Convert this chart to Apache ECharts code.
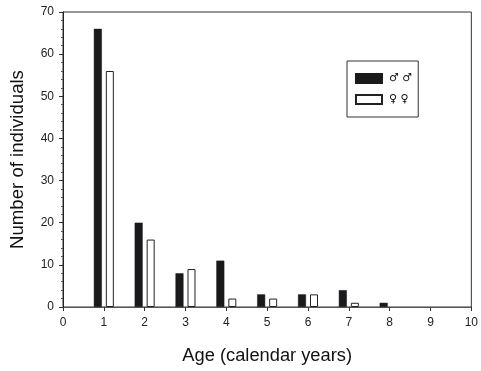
<!DOCTYPE html>
<html><head><meta charset="utf-8">
<script src="https://cdn.jsdelivr.net/npm/echarts@6/dist/echarts.min.js"></script>
<style>html,body{margin:0;padding:0;background:#fff}#c{width:481px;height:371px}</style>
</head><body><div id="c"></div>
<script>
var ages = ['0','1','2','3','4','5','6','7','8','9','10'];
var males = [null, 66, 20, 8, 11, 3, 3, 4, 1, null, null];
var females = [null, 56, 16, 9, 2, 2, 3, 1, null, null, null];
var yTicks = [0, 10, 20, 30, 40, 50, 60, 70];
var legendNames = ['♂ ♂', '♀ ♀'];

var chart = echarts.init(document.getElementById('c'));
var font = 'Liberation Sans, Arial, sans-serif';
chart.setOption({
  animation: false,
  backgroundColor: '#fff',
  grid: { left: 61, right: 5, top: 12, bottom: 64, show: true, borderColor: '#333', borderWidth: 1, containLabel: false },
  legend: {
    orient: 'vertical', left: 347, top: 61,
    padding: [12, 6, 12, 8], itemGap: 10, itemWidth: 26, itemHeight: 9,
    backgroundColor: '#fff', borderColor: '#333', borderWidth: 1,
    textStyle: { fontFamily: 'DejaVu Sans', fontSize: 11, color: '#111', padding: [0, 0, 0, 2] },
    data: [{ name: legendNames[0], icon: 'rect' }, { name: legendNames[1], icon: 'rect' }]
  },
  xAxis: {
    type: 'category', data: ages, boundaryGap: false,
    name: 'Age (calendar years)', nameLocation: 'middle', nameGap: 40,
    nameTextStyle: { fontFamily: font, fontSize: 18.3, color: '#111' },
    axisLine: { lineStyle: { color: '#555', width: 1 } },
    axisTick: { show: true, length: 4, alignWithLabel: true, lineStyle: { color: '#333' } },
    axisLabel: { fontFamily: font, fontSize: 12, color: '#222', margin: 10 },
    splitLine: { show: false }
  },
  yAxis: {
    type: 'value', min: yTicks[0], max: yTicks[yTicks.length - 1], interval: 10,
    name: 'Number of individuals', nameLocation: 'middle', nameGap: 36, nameRotate: 90,
    nameTextStyle: { fontFamily: font, fontSize: 18.6, color: '#111' },
    axisLine: { show: true, lineStyle: { color: '#222', width: 1 } },
    axisTick: { show: true, length: 4, lineStyle: { color: '#333' } },
    minorTick: { show: true, splitNumber: 5, length: 2, lineStyle: { color: '#555' } },
    axisLabel: { fontFamily: font, fontSize: 12, color: '#222', margin: 9 },
    splitLine: { show: false }
  },
  series: [
    { name: legendNames[0], type: 'bar', data: males, barWidth: 8, barGap: '50%',
      itemStyle: { color: '#1a1a1c', borderColor: '#1a1a1c', borderWidth: 0.5 } },
    { name: legendNames[1], type: 'bar', data: females, barWidth: 8, barGap: '50%',
      itemStyle: { color: '#ffffff', borderColor: '#222', borderWidth: 1 } }
  ]
});
</script></body></html>
